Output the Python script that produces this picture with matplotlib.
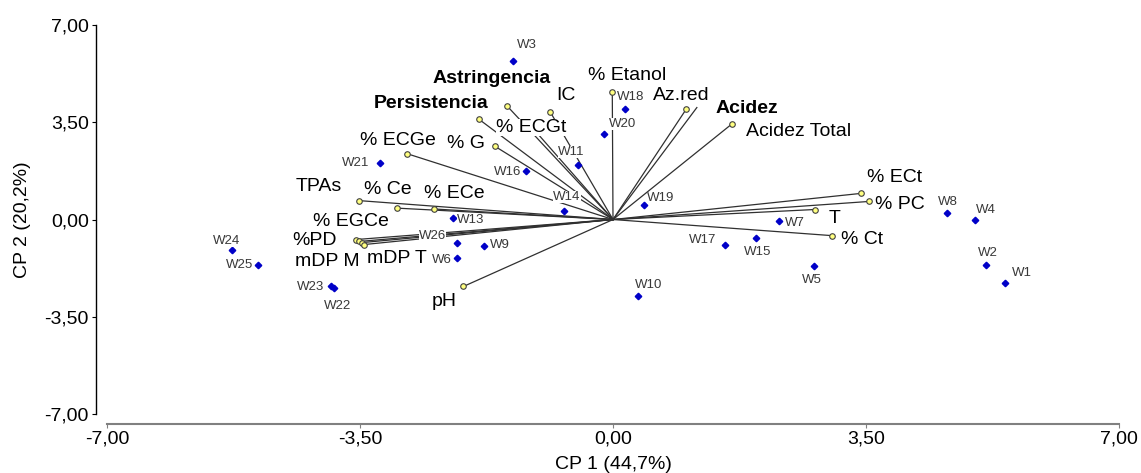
import matplotlib
matplotlib.use("Agg")
import matplotlib.pyplot as plt

plt.rcParams['font.family'] = ['Liberation Sans', 'DejaVu Sans']

# ---- data (scores and loadings) ----
obs_names = ["W1", "W2", "W3", "W4", "W5", "W6", "W7", "W8", "W9", "W10",
             "W11", "W13", "W14", "W15", "W16", "W17", "W18", "W19", "W20",
             "W21", "W22", "W23", "W24", "W25", "W26"]
obs_pc1 = [5.42, 5.16, -1.38, 5.01, 2.78, -2.16, 2.30, 4.62, -1.78, 0.35,
           -0.48, -2.21, -0.68, 1.98, -1.20, 1.55, 0.17, 0.43, -0.12,
           -3.22, -3.86, -3.90, -5.27, -4.91, -2.16]
obs_pc2 = [-2.27, -1.62, 5.72, 0.00, -1.69, -1.40, -0.04, 0.25, -0.97, -2.77,
           1.98, 0.07, 0.32, -0.65, 1.73, -0.90, 3.96, 0.54, 3.06,
           2.05, -2.45, -2.41, -1.10, -1.65, -0.86]

var_names = ["Astringencia", "Persistencia", "IC", "% ECGt", "% G", "% ECGe",
             "TPAs", "% Ce", "% ECe", "% EGCe", "%PD", "mDP M", "mDP T", "pH",
             "% Etanol", "Az.red", "Acidez", "Acidez Total", "% ECt", "% PC",
             "T", "% Ct"]
var_pc1 = [-1.47, -1.85, -0.87, -1.08, -1.63, -2.85,
           -3.51, -2.99, -2.48, -3.55, -3.51, -3.47, -3.44, -2.07,
           -0.01, 1.01, 1.16, 1.65, 3.43, 3.54,
           2.79, 3.03]
var_pc2 = [4.10, 3.60, 3.88, 3.20, 2.63, 2.37,
           0.68, 0.41, 0.38, -0.72, -0.79, -0.83, -0.90, -2.41,
           4.60, 3.96, 4.03, 3.45, 0.94, 0.65,
           0.36, -0.58]

x_ticks = [-7.0, -3.5, 0.0, 3.5, 7.0]
y_ticks = [-7.0, -3.5, 0.0, 3.5, 7.0]
tick_labels = ["-7,00", "-3,50", "0,00", "3,50", "7,00"]
x_title = "CP 1 (44,7%)"
y_title = "CP 2 (20,2%)"

# ---- label placement (pixels, right / up) ----
obs_offsets = {
    "W1": (17, 10), "W2": (2, 12), "W3": (14, 16), "W4": (11, 10), "W5": (-2, -14),
    "W6": (-15, -2), "W7": (16, -2), "W8": (1, 11), "W9": (16, 1), "W10": (10, 11),
    "W11": (-7, 13), "W13": (17, -2), "W14": (3, 14), "W15": (2, -14), "W16": (-19, -1),
    "W17": (-22, 5), "W18": (5, 12), "W19": (17, 7), "W20": (18, 10), "W21": (-25, 0),
    "W22": (4, -18), "W23": (-21, -1), "W24": (-6, 9), "W25": (-19, 0), "W26": (-24, 7),
}
var_offsets = {
    "Astringencia": (-15, 27), "Persistencia": (-48, 16), "IC": (16, 16),
    "% ECGt": (-4, 3), "% G": (-29, 3), "% ECGe": (-9, 13), "TPAs": (-41, 14),
    "% Ce": (-9, 19), "% ECe": (21, 15), "% EGCe": (-5, 18), "%PD": (-45, 1),
    "mDP M": (-35, -19), "mDP T": (33, -14), "pH": (-19, -15), "% Etanol": (15, 16),
    "Az.red": (-5, 14), "Acidez": (50, -1), "Acidez Total": (66, -8),
    "% ECt": (34, 16), "% PC": (31, -3), "T": (20, -9), "% Ct": (30, -4),
}
bold_vars = {"Astringencia", "Persistencia", "Acidez"}
no_marker_vars = {"Acidez"}

fig = plt.figure(figsize=(11.41, 4.73), dpi=100)
ax = fig.add_axes([0.0938, 0.1247, 0.8869, 0.8224])
ax.set_xlim(-7, 7)
ax.set_ylim(-7, 7)

# vectors
for name, vx, vy in zip(var_names, var_pc1, var_pc2):
    ax.plot([0, vx], [0, vy], color='#303030', lw=0.9, zorder=2)
    if name not in no_marker_vars:
        ax.plot([vx], [vy], 'o', ms=4.0, mfc='#ffff80', mec='#404040', mew=0.8, zorder=3)
    dx, dy = var_offsets[name]
    ax.annotate(name, (vx, vy), xytext=(dx, dy), textcoords='offset pixels',
                ha='center', va='center', fontsize=14,
                fontweight='bold' if name in bold_vars else 'normal',
                color='black', zorder=5,
                bbox=dict(boxstyle='square,pad=0', fc='white', ec='none'))

# observations
ax.plot(obs_pc1, obs_pc2, 'D', ms=3.3, color='#0000c8', zorder=4, ls='none')
for name, ox, oy in zip(obs_names, obs_pc1, obs_pc2):
    dx, dy = obs_offsets[name]
    ax.annotate(name, (ox, oy), xytext=(dx, dy), textcoords='offset pixels',
                ha='center', va='center', fontsize=9.5, color='#383838', zorder=5,
                bbox=dict(boxstyle='square,pad=0', fc='white', ec='none'))

# axes styling
for s in ['top', 'right']:
    ax.spines[s].set_visible(False)
ax.spines['left'].set_position(('outward', 8))
ax.spines['bottom'].set_position(('outward', 7))
ax.spines['left'].set_color('black')
ax.spines['left'].set_linewidth(1.0)
ax.spines['bottom'].set_color('#808080')
ax.spines['bottom'].set_linewidth(1.5)
ax.set_xticks(x_ticks)
ax.set_xticklabels(tick_labels)
ax.set_yticks(y_ticks)
ax.set_yticklabels(tick_labels)
ax.tick_params(axis='both', labelsize=14, length=3, width=0.8, pad=2)
ax.tick_params(axis='x', colors='#808080', labelcolor='black')
ax.set_xlabel(x_title, fontsize=14, labelpad=6)
ax.set_ylabel(y_title, fontsize=14, labelpad=10)

fig.savefig("out.png", dpi=100)
